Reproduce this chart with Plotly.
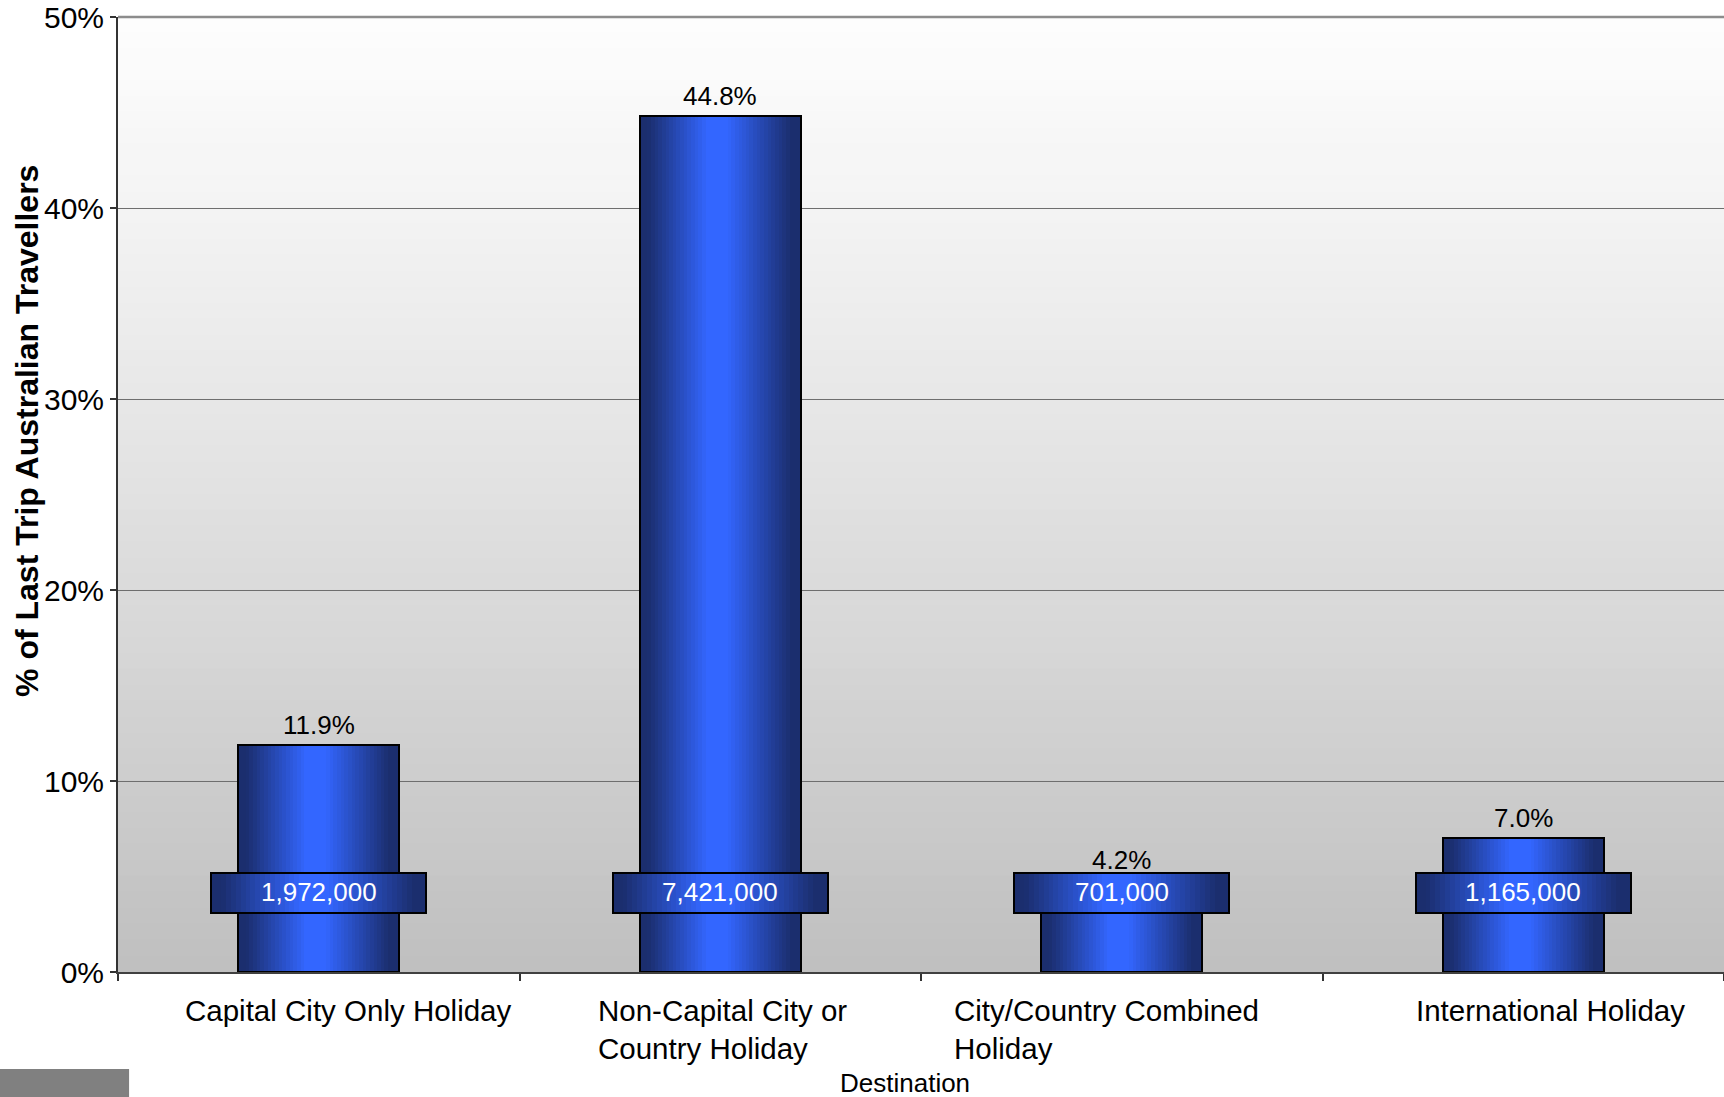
import plotly.graph_objects as go

# Share of last-trip Australian travellers by destination type
CATEGORIES = [
    "Capital City Only Holiday",
    "Non-Capital City or<br>Country Holiday",
    "City/Country Combined<br>Holiday",
    "International Holiday",
]
PCT = [11.9, 44.8, 4.2, 7.0]
TRAVELLERS = [1972000, 7421000, 701000, 1165000]
Y_TICKS = [0, 10, 20, 30, 40, 50]
Y_TICK_TEXT = [f"{v}%" for v in Y_TICKS]

# --- styling -------------------------------------------------------------
FONT = "Liberation Sans, Arial, sans-serif"
BAR_W = 0.40            # bar width in category units
BOX_W = 0.535           # count-label box width
BOX_LO, BOX_HI = 3.09, 5.18   # vertical extent of count-label box (axis units)
N_STRIPES = 44
DARK = (27, 46, 110)
BRIGHT = (51, 102, 255)
LABEL_NUDGE = [30, 2, -15, 27]   # horizontal pixel nudge of category labels

CAT_IDX = list(range(len(CATEGORIES)))


def shade(t):
    # dark edges, linear ramps, bright plateau slightly left of centre
    if t < 0.42:
        f = (t - 0.05) / 0.37
    elif t <= 0.54:
        f = 1.0
    else:
        f = (0.94 - t) / 0.40
    f = max(0.0, min(1.0, f))
    r, g, b = (round(d + (br - d) * f) for d, br in zip(DARK, BRIGHT))
    return f"rgb({r},{g},{b})"


def stripe_traces(width, y, base=None):
    """Horizontal-gradient fill built from thin overlapping bars."""
    traces = []
    sw = width / N_STRIPES
    for k in range(N_STRIPES):
        off = -width / 2 + k * sw
        w = min(sw * 1.6, width / 2 - off)
        traces.append(go.Bar(
            x=CAT_IDX, y=y, base=base,
            width=[w] * len(CAT_IDX), offset=[off] * len(CAT_IDX),
            marker=dict(color=shade((k + 0.5) / N_STRIPES), line=dict(width=0)),
            hoverinfo="skip", showlegend=False,
        ))
    return traces


fig = go.Figure()

# main bars
for tr in stripe_traces(BAR_W, PCT):
    fig.add_trace(tr)
fig.add_trace(go.Bar(
    x=CAT_IDX, y=PCT, width=[BAR_W] * 4,
    marker=dict(color="rgba(0,0,0,0)", line=dict(color="#000", width=2)),
    hovertemplate="%{y:.1f}%<extra></extra>", showlegend=False,
))

# count label boxes
box_h = [BOX_HI - BOX_LO] * 4
box_base = [BOX_LO] * 4
for tr in stripe_traces(BOX_W, box_h, base=box_base):
    fig.add_trace(tr)
fig.add_trace(go.Bar(
    x=CAT_IDX, y=box_h, base=box_base, width=[BOX_W] * 4,
    marker=dict(color="rgba(0,0,0,0)", line=dict(color="#000", width=2)),
    hoverinfo="skip", showlegend=False,
))

annotations = []
for i, (v, n) in enumerate(zip(PCT, TRAVELLERS)):
    covered = v < BOX_HI
    annotations.append(dict(
        x=i, y=BOX_HI if covered else v, xref="x", yref="y",
        text=f"{v:.1f}%", showarrow=False, yanchor="middle",
        yshift=13 if covered else 20,
        font=dict(family=FONT, size=26, color="#000"),
    ))
    annotations.append(dict(
        x=i, y=(BOX_LO + BOX_HI) / 2, xref="x", yref="y",
        text=f"{n:,}", showarrow=False, yanchor="middle", yshift=1,
        font=dict(family=FONT, size=26, color="#fff"),
    ))
    annotations.append(dict(
        x=i, y=0, xref="x", yref="paper", text=CATEGORIES[i],
        showarrow=False, yanchor="top", yshift=-20, xshift=LABEL_NUDGE[i],
        align="left", font=dict(family=FONT, size=29.5, color="#000"),
    ))

annotations.append(dict(
    x=-0.0567, y=0.5665, xref="paper", yref="paper",
    text="<b>% of Last Trip Australian Travellers</b>", textangle=-90,
    showarrow=False, xanchor="center", yanchor="middle",
    font=dict(family=FONT, size=32, color="#000"),
))
annotations.append(dict(
    x=0.490, y=-0.1165, xref="paper", yref="paper", text="Destination",
    showarrow=False, xanchor="center", yanchor="middle",
    font=dict(family=FONT, size=26, color="#000"),
))

# vertical gray gradient behind the plot
shapes = []
N_BANDS = 60
for b in range(N_BANDS):
    t = (b + 0.5) / N_BANDS          # 0 at top, 1 at bottom
    c = round(253 - 62 * t ** 1.15)
    shapes.append(dict(
        type="rect", xref="paper", yref="paper", layer="below",
        x0=0, x1=1, y0=1 - (b + 1) / N_BANDS, y1=1 - b / N_BANDS + 0.001,
        fillcolor=f"rgb({c},{c},{c})", line=dict(width=0),
    ))
# top border of the plot area
shapes.append(dict(type="line", xref="paper", yref="paper", x0=0, x1=1,
                   y0=1, y1=1, line=dict(color="#8c8c8c", width=2.5)))
# gray block in the lower-left corner
shapes.append(dict(type="rect", xref="paper", yref="paper",
                   x0=-0.0735, x1=0.0069, y0=-0.131, y1=-0.1016,
                   fillcolor="#808080", line=dict(width=0)))

fig.update_layout(
    width=1724, height=1097,
    margin=dict(l=118, r=0, t=17, b=125),
    paper_bgcolor="#fff", plot_bgcolor="#fff",
    barmode="overlay", bargap=0,
    font=dict(family=FONT, color="#000"),
    annotations=annotations, shapes=shapes,
    xaxis=dict(
        type="linear", range=[-0.5, len(CATEGORIES) - 0.5],
        tickmode="array",
        tickvals=[i - 0.5 for i in range(len(CATEGORIES) + 1)],
        showticklabels=False, ticks="outside", ticklen=7,
        tickcolor="#333", tickwidth=1.5,
        showline=True, linecolor="#404040", linewidth=2,
        showgrid=False, zeroline=False,
    ),
    yaxis=dict(
        range=[0, 50], tickmode="array",
        tickvals=Y_TICKS, ticktext=Y_TICK_TEXT,
        ticks="outside", ticklen=6, tickcolor="#333", tickwidth=1.5,
        tickfont=dict(family=FONT, size=30, color="#000"),
        showline=True, linecolor="#333", linewidth=2,
        showgrid=True, gridcolor="#6e6e6e", gridwidth=1, zeroline=False,
    ),
)

fig.write_html("out.html")
